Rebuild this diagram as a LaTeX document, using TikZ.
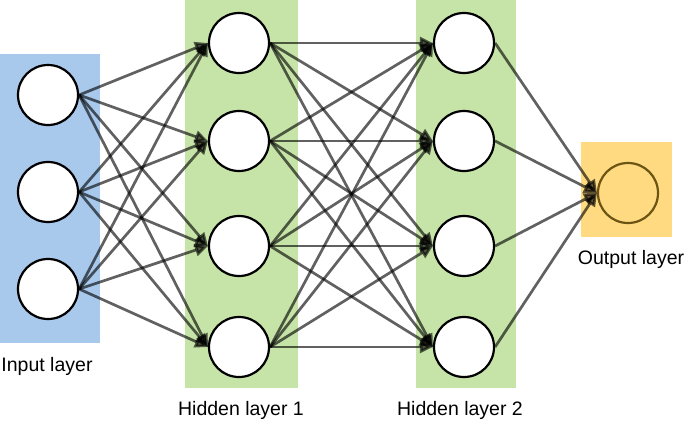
\documentclass[tikz,border=0pt]{standalone}
\usepackage{fontspec}
\setmainfont{Liberation Sans}
\usetikzlibrary{arrows.meta}
\definecolor{inblue}{HTML}{A8C8EC}
\definecolor{hidgreen}{HTML}{C6E3A8}
\definecolor{outyellow}{HTML}{FFDA80}
\definecolor{outline}{HTML}{6B5414}
\tikzset{
  neuron/.style={circle, draw=black, fill=white, line width=2.2pt, minimum size=60pt, inner sep=0pt},
  outneuron/.style={circle, draw=outline, line width=2.2pt, minimum size=60pt, inner sep=0pt},
  edge/.style={draw=black, opacity=0.62, line width=2.7pt, -{Triangle[length=13pt,width=12pt]}},
  lbl/.style={font=\fontsize{19.5}{21}\selectfont, anchor=base, inner sep=0pt}
}
\begin{document}
\begin{tikzpicture}[x=1pt,y=-1pt]
\useasboundingbox (0,0) rectangle (685,421);
% backgrounds
\fill[inblue] (0,54) rectangle (100,343);
\fill[hidgreen] (185,0) rectangle (298,388);
\fill[hidgreen] (416,0) rectangle (516,388);
\fill[outyellow] (581,142) rectangle (672,237);
% nodes
\node[neuron] (i1) at (48,95) {};
\node[neuron] (i2) at (48,192) {};
\node[neuron] (i3) at (48,289) {};
\node[neuron] (a1) at (239,43) {};
\node[neuron] (a2) at (239,141) {};
\node[neuron] (a3) at (239,246) {};
\node[neuron] (a4) at (239,347) {};
\node[neuron] (b1) at (464,43) {};
\node[neuron] (b2) at (464,141) {};
\node[neuron] (b3) at (464,246) {};
\node[neuron] (b4) at (464,347) {};
\node[outneuron] (o) at (628,193) {};
% edges
\foreach \s in {i1,i2,i3}{
  \foreach \t in {a1,a2,a3,a4}{
    \path[edge] (\s.east) -- (\t.west);
  }
}
\foreach \s in {a1,a2,a3,a4}{
  \foreach \t in {b1,b2,b3,b4}{
    \path[edge] (\s.east) -- (\t.west);
  }
}
\foreach \s in {b1,b2,b3,b4}{
  \path[edge] (\s.east) -- (o.west);
}
% labels
\node[lbl] (li) at (47,371.5) {Input layer};
\node[lbl] (lh1) at (241,415) {Hidden layer 1};
\node[lbl] (lh2) at (460,415) {Hidden layer 2};
\node[lbl] (lo) at (631,264) {Output layer};
\end{tikzpicture}
\end{document}
